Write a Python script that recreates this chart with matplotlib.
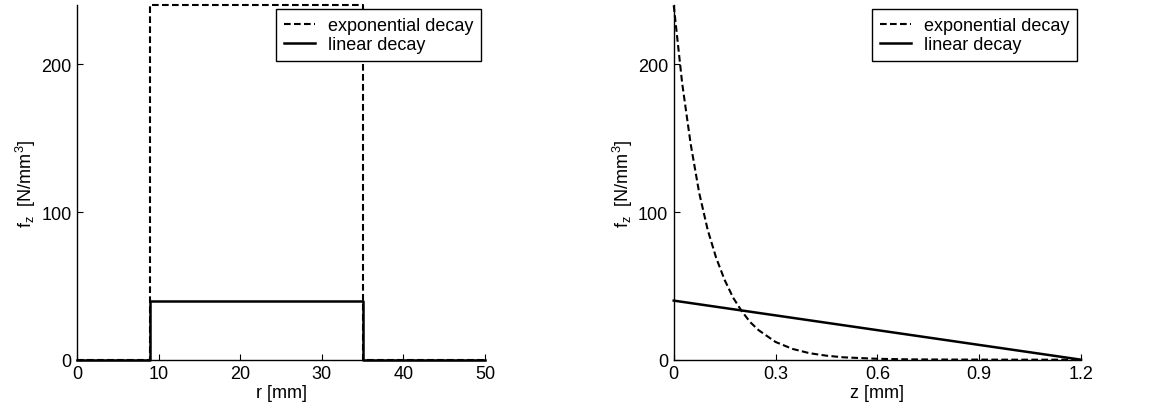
import matplotlib
matplotlib.use("Agg")
import matplotlib.pyplot as plt

plt.rcParams['font.family'] = ['Liberation Sans', 'DejaVu Sans']
plt.rcParams['mathtext.fontset'] = 'custom'
plt.rcParams['mathtext.rm'] = 'Liberation Sans'
plt.rcParams['mathtext.it'] = 'Liberation Sans'

# Left panel: radial distribution
r_mm = [0, 9, 9, 35, 35, 50]
r_exp = [0, 0, 240, 240, 0, 0]
r_lin = [0, 0, 40, 40, 0, 0]

# Right panel: depth distribution
z_mm = [0, 0.025, 0.05, 0.075, 0.1, 0.125, 0.15, 0.175, 0.2, 0.225, 0.25,
        0.3, 0.35, 0.4, 0.45, 0.5, 0.6, 0.7, 0.8, 1.0, 1.2]
z_exp = [240, 187, 146, 113, 88, 69, 54, 42, 33, 25.5, 20,
         12, 7.3, 4.4, 2.7, 1.6, 0.6, 0.2, 0.1, 0, 0]
z_lin_x = [0, 1.2]
z_lin = [40, 0]

labels = ['exponential decay', 'linear decay']
r_ticks = [0, 10, 20, 30, 40, 50]
z_ticks = [0, 0.3, 0.6, 0.9, 1.2]
z_ticklabels = ['0', '0.3', '0.6', '0.9', '1.2']
y_ticks = [0, 100, 200]

fig = plt.figure(figsize=(11.57, 4.14), dpi=100)
ax1 = fig.add_axes([0.0666, 0.1288, 0.3526, 0.856])
ax2 = fig.add_axes([0.5823, 0.1288, 0.352, 0.856])

fs = 13
ylab = r'$\mathregular{f_z}$  [N/mm$^\mathregular{3}$]'
dash = (3.2, 1.6)

for ax in (ax1, ax2):
    for s in ('top', 'right'):
        ax.spines[s].set_visible(False)
    ax.spines['left'].set_linewidth(1.0)
    ax.spines['bottom'].set_linewidth(1.0)
    ax.tick_params(direction='in', length=4, width=0.8, labelsize=fs, pad=4)
    ax.set_ylim(0, 240)
    ax.set_yticks(y_ticks)
    ax.set_ylabel(ylab, fontsize=fs, labelpad=2)

ax1.plot(r_mm, r_exp, 'k--', lw=1.5, dashes=dash, label=labels[0], clip_on=False)
ax1.plot(r_mm, r_lin, 'k-', lw=1.8, label=labels[1], clip_on=False)
ax1.set_xlim(0, 50)
ax1.set_xticks(r_ticks)
ax1.set_xlabel('r [mm]', fontsize=fs, labelpad=1)

ax2.plot(z_mm, z_exp, 'k--', lw=1.5, dashes=dash, label=labels[0], clip_on=False)
ax2.plot(z_lin_x, z_lin, 'k-', lw=1.8, label=labels[1], clip_on=False)
ax2.set_xlim(0, 1.2)
ax2.set_xticks(z_ticks)
ax2.set_xticklabels(z_ticklabels)
ax2.set_xlabel('z [mm]', fontsize=fs, labelpad=1)

for ax in (ax1, ax2):
    leg = ax.legend(loc='upper right', fontsize=fs, fancybox=False,
                    framealpha=1, edgecolor='black', borderaxespad=0.2,
                    handlelength=1.75, borderpad=0.45, labelspacing=0.12,
                    handletextpad=0.7)
    leg.get_frame().set_linewidth(1.0)

fig.savefig('out.png', dpi=100)
